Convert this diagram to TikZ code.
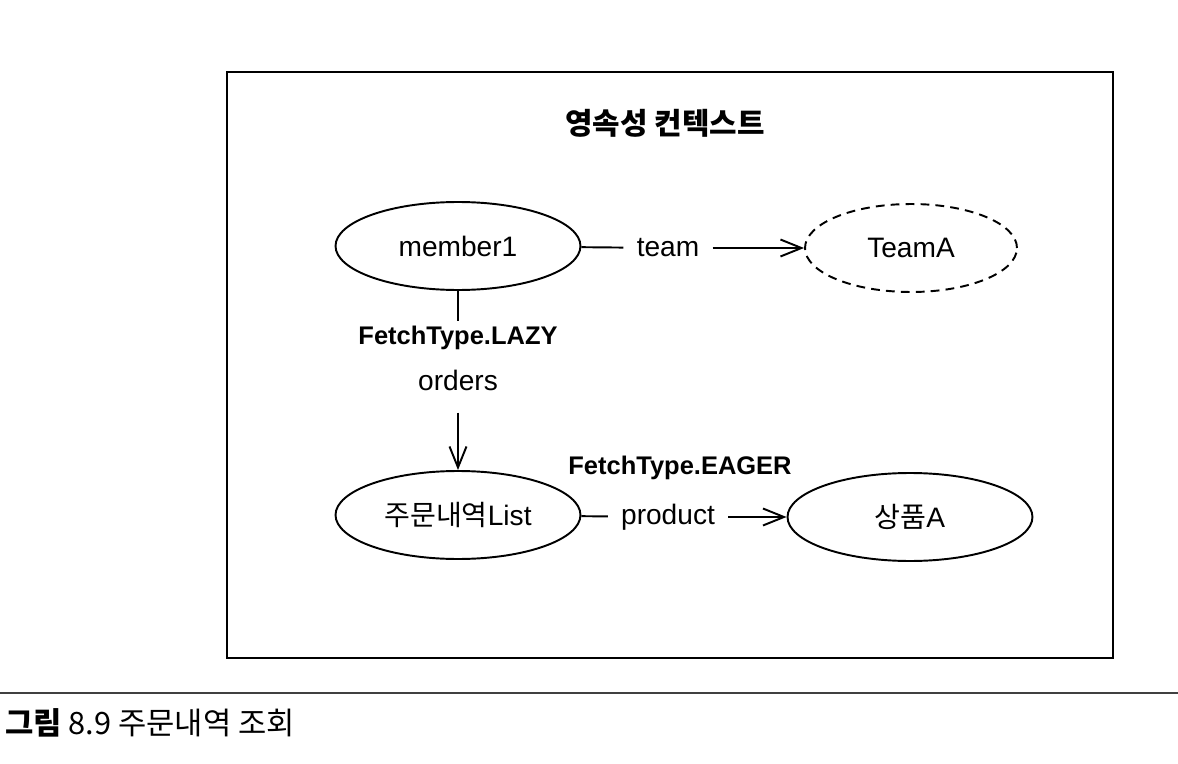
\documentclass[tikz,border=0pt]{standalone}
\usepackage{fontspec}
\setmainfont{Liberation Sans}
\newfontfamily\kr{Noto Sans CJK KR}
\usetikzlibrary{shapes.geometric,arrows.meta}
\tikzset{
  obj/.style={ellipse,draw,line width=1.1pt,minimum width=4.9cm,minimum height=1.76cm,
    font=\fontsize{16}{19}\selectfont},
  lbl/.style={font=\fontsize{16}{19}\selectfont,inner xsep=0.26cm},
  fetch/.style={font=\bfseries\fontsize{14.5}{17}\selectfont,inner sep=0.1cm},
  link/.style={line width=1.1pt},
  arr/.style={link,-{Straight Barb[length=0.42cm,width=0.34cm,line width=1.1pt]}}
}
\begin{document}
\begin{tikzpicture}[x=0.02cm,y=-0.02cm]
  \useasboundingbox (0,0) rectangle (1178,764);
  \draw[line width=1.4pt] (227,72) rectangle (1113,658);
  \node[font=\kr\bfseries\fontsize{17}{20}\selectfont] (title) at (665,123) {영속성 컨텍스트};
  \node[obj] (member) at (458,246) {member1};
  \node[obj,dash pattern=on 5pt off 3.5pt,minimum width=4.24cm] (teamA) at (911,248) {TeamA};
  \node[obj] (orderList) at (458,515) {{\kr 주문내역}List};
  \node[obj] (productA) at (910,517) {{\kr 상품}A};
  \node[lbl] (team) at (668,248) {team};
  \node[lbl] (product) at (668,517) {product};
  \node[fetch] (lazy) at (458,338) {FetchType.LAZY};
  \node[lbl,inner ysep=0.44cm] (orders) at (458,380) {orders};
  \node[fetch] (eager) at (680,468) {FetchType.EAGER};
  \draw[link] (member) -- (team);
  \draw[arr] (team) -- (teamA);
  \draw[link] (member) -- (lazy);
  \draw[arr] (orders) -- (orderList);
  \draw[link] (orderList) -- (product);
  \draw[arr] (product) -- (productA);
  \draw[line width=0.8pt,black!75] (0,693) -- (1178,693);
  \node[font=\kr\fontsize{17.5}{21}\selectfont,anchor=west,inner sep=0] (caption) at (5,723)
    {{\bfseries 그림} 8.9 주문내역 조회};
\end{tikzpicture}
\end{document}
